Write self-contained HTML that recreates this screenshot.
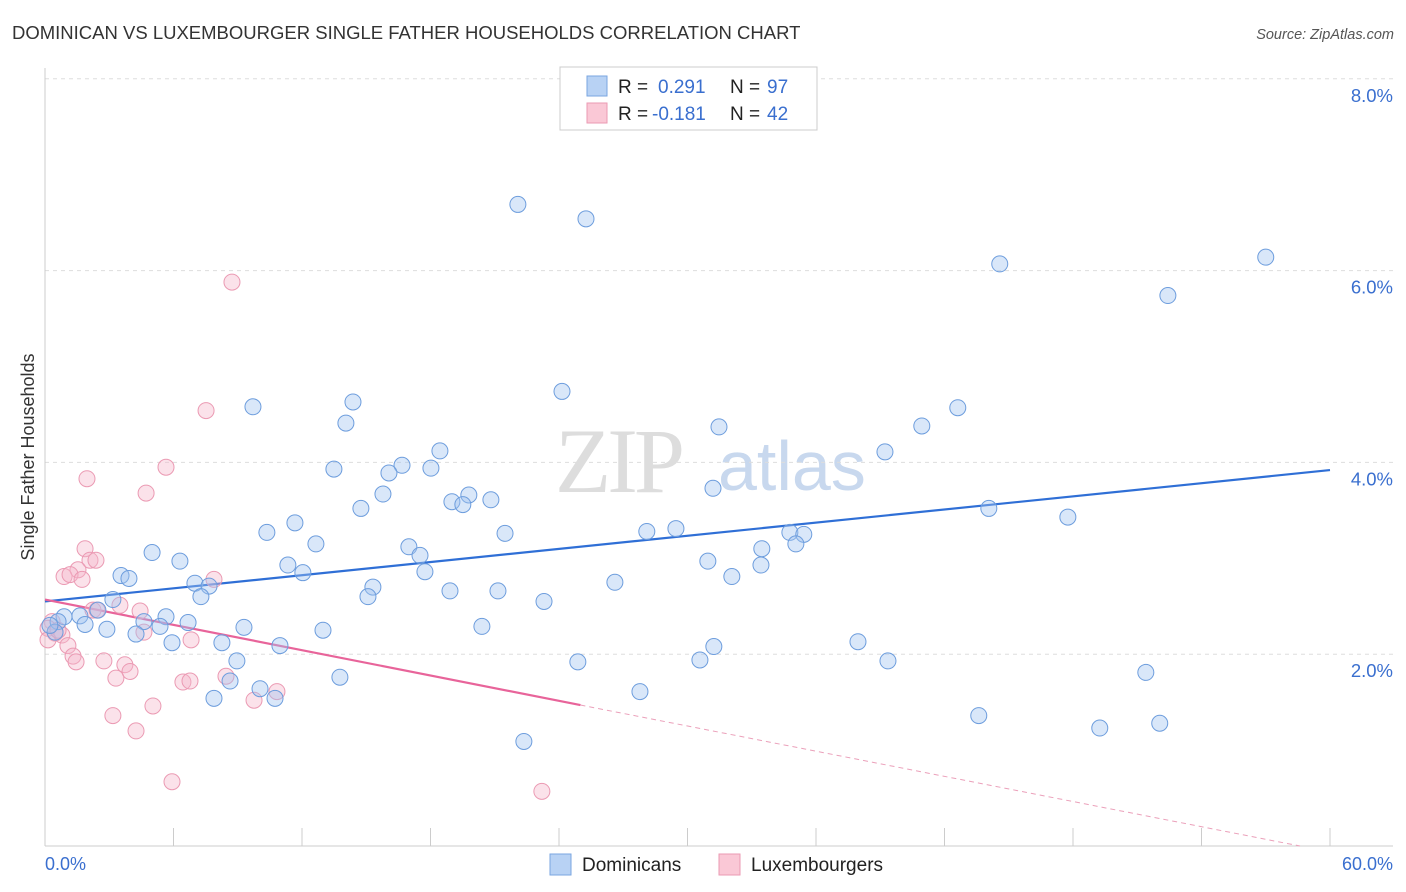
<!DOCTYPE html>
<html><head><meta charset="utf-8"><style>
body{margin:0;background:#fff;width:1406px;height:892px;overflow:hidden;font-family:"Liberation Sans",sans-serif;}
svg{position:absolute;left:0;top:0}
</style></head><body>
<svg id="chart" width="1406" height="892">
<text x="12" y="39" font-size="18.5" fill="#333">DOMINICAN VS LUXEMBOURGER SINGLE FATHER HOUSEHOLDS CORRELATION CHART</text>
<text x="1394" y="39" font-size="14.5" fill="#555" font-style="italic" text-anchor="end">Source: ZipAtlas.com</text>
<text x="34" y="457" font-size="18" fill="#333" text-anchor="middle" transform="rotate(-90 34 457)">Single Father Households</text>
<g>
<text x="555" y="492" font-size="92" font-family="Liberation Serif,serif" fill="#ddd" letter-spacing="-4">ZIP</text>
<text x="718" y="490" font-size="70" fill="#c8d8ee">atlas</text>
</g>
<g id="grid"></g><g id="axes"></g><g id="trends"></g><g id="points"></g>
<g>
<rect x="560" y="67" width="257" height="63" fill="#fff" stroke="#ccc"/>
<rect x="587" y="76" width="20" height="20" fill="#b8d2f4" stroke="#7aa6e0"/>
<rect x="587" y="103" width="20" height="20" fill="#fac8d6" stroke="#eb9ab3"/>
<text x="618" y="93" font-size="19" fill="#222">R = </text><text x="658" y="93" font-size="19" fill="#3a6fcf">0.291</text>
<text x="730" y="93" font-size="19" fill="#222">N = </text><text x="767" y="93" font-size="19" fill="#3a6fcf">97</text>
<text x="618" y="120" font-size="19" fill="#222">R = </text><text x="652" y="120" font-size="19" fill="#3a6fcf">-0.181</text>
<text x="730" y="120" font-size="19" fill="#222">N = </text><text x="767" y="120" font-size="19" fill="#3a6fcf">42</text>
</g>
<g>
<rect x="550" y="854" width="21" height="21" fill="#b8d2f4" stroke="#7aa6e0"/>
<text x="582" y="871" font-size="19" fill="#222">Dominicans</text>
<rect x="719" y="854" width="21" height="21" fill="#fac8d6" stroke="#eb9ab3"/>
<text x="751" y="871" font-size="19" fill="#222">Luxembourgers</text>
</g>
<text x="45" y="870" font-size="18" fill="#3a6fcf">0.0%</text>
<text x="1393" y="870" font-size="18" fill="#3a6fcf" text-anchor="end">60.0%</text>
</svg>
<script>
const yTicks=[2,4,6,8];
const yTickLabels=["2.0%","4.0%","6.0%","8.0%"];
const xTicks=[0,6,12,18,24,30,36,42,48,54,60];
const blueX=[22.08,25.26,44.58,57.0,52.43,24.14,9.71,14.38,14.05,42.62,31.47,40.94,39.22,18.44,16.67,16.06,18.02,13.49,31.19,15.78,19.79,19.0,19.51,20.82,14.75,10.36,11.67,21.48,28.1,29.46,44.07,47.76,34.78,35.43,12.65,16.99,17.51,33.47,35.06,5.0,6.3,11.34,30.95,12.04,17.74,3.55,3.92,26.61,32.07,33.43,7.0,7.66,7.28,15.31,15.08,18.91,21.15,23.3,3.17,2.47,1.63,0.89,0.61,1.87,5.65,4.62,6.68,5.37,2.89,9.29,12.98,4.25,20.4,5.93,8.26,10.97,37.96,31.23,8.96,24.88,30.58,39.36,51.4,8.64,13.77,10.04,7.89,10.74,27.78,43.6,52.05,49.25,22.36,0.47,0.23];
const blueY=[6.69,6.54,6.07,6.14,5.74,4.74,4.58,4.63,4.41,4.57,4.37,4.38,4.11,4.12,3.97,3.89,3.94,3.93,3.73,3.67,3.66,3.59,3.56,3.61,3.52,3.27,3.37,3.26,3.28,3.31,3.52,3.43,3.27,3.25,3.15,3.12,3.03,3.10,3.15,3.06,2.97,2.93,2.97,2.85,2.86,2.82,2.79,2.75,2.81,2.93,2.74,2.71,2.60,2.70,2.60,2.66,2.66,2.55,2.57,2.46,2.40,2.39,2.34,2.31,2.39,2.34,2.33,2.29,2.26,2.28,2.25,2.21,2.29,2.12,2.12,2.09,2.13,2.08,1.93,1.92,1.94,1.93,1.81,1.72,1.76,1.64,1.54,1.54,1.61,1.36,1.28,1.23,1.09,2.23,2.30];
const pinkX=[8.73,7.52,5.65,1.96,4.72,1.87,2.10,2.38,1.54,0.89,1.17,1.73,7.89,2.24,2.43,3.50,4.44,0.33,0.14,0.47,0.79,4.62,6.82,1.07,1.31,1.45,2.75,3.73,3.97,3.31,6.44,6.77,8.45,10.83,9.76,5.04,3.17,4.25,5.93,23.2,0.14,0.61];
const pinkY=[5.88,4.54,3.95,3.83,3.68,3.10,2.98,2.98,2.88,2.81,2.83,2.78,2.78,2.46,2.46,2.51,2.45,2.34,2.27,2.22,2.20,2.23,2.15,2.09,1.98,1.92,1.93,1.89,1.82,1.75,1.71,1.72,1.77,1.61,1.52,1.46,1.36,1.20,0.67,0.57,2.15,2.25];
const blueTrend=[[0,2.55],[60,3.92]];
const pinkTrendSolid=[[0,2.57],[25,1.47]];
const pinkTrendDashed=[[25,1.47],[58.6,0.0]];

const NS="http://www.w3.org/2000/svg";
const X0=45,X1=1330,Y0=846,PXPCT=95.9;
function sx(v){return X0+(X1-X0)*v/60;}
function sy(v){return Y0-v*PXPCT;}
function mk(tag,attrs,parent){const e=document.createElementNS(NS,tag);for(const k in attrs)e.setAttribute(k,attrs[k]);parent.appendChild(e);return e;}
const grid=document.getElementById('grid'),axes=document.getElementById('axes'),trends=document.getElementById('trends'),pts=document.getElementById('points');
yTicks.forEach((t,i)=>{
  const l=mk('line',{x1:45,x2:1393,y1:sy(t),y2:sy(t),stroke:'#ddd','stroke-dasharray':'4,4'},grid);
  
  
  const tx=mk('text',{x:1393,y:sy(t)+23,'font-size':18.5,fill:'#3a6fcf','text-anchor':'end'},axes);
  tx.textContent=yTickLabels[i];
  
  
});
const ya=mk('line',{x1:45,x2:45,y1:68,y2:846,stroke:'#ccc'},axes);


const xa=mk('line',{x1:45,x2:1393,y1:846,y2:846,stroke:'#ccc'},axes);


xTicks.forEach(t=>{
  const l=mk('line',{x1:sx(t),x2:sx(t),y1:828,y2:846,stroke:'#ccc'},axes);
  
  
});
function tline(seg,color,w,dash,name){
  const a={x1:sx(seg[0][0]),y1:sy(seg[0][1]),x2:sx(seg[1][0]),y2:sy(seg[1][1]),stroke:color,'stroke-width':w};
  if(dash)a['stroke-dasharray']=dash;
  const l=mk('line',a,trends);
  
  
}
function dots(xs,ys,fill,stroke,name){
  xs.forEach((x,i)=>{
    const c=mk('circle',{cx:sx(x),cy:sy(ys[i]),r:8,fill:fill,stroke:stroke,'stroke-width':1},pts);
    
    
  });
}
dots(pinkX,pinkY,'rgba(246,182,202,0.4)','#eb9ab3','luxembourger-point');
dots(blueX,blueY,'rgba(160,196,240,0.4)','#6d9ddd','dominican-point');
tline(blueTrend,'#2f6fd6',2.2,null,'dominican-trend-line');
tline(pinkTrendSolid,'#e8649a',2.2,null,'luxembourger-trend-line');
tline(pinkTrendDashed,'#eba0ba',1,'5,4','luxembourger-trend-extension');
</script>
</body></html>
